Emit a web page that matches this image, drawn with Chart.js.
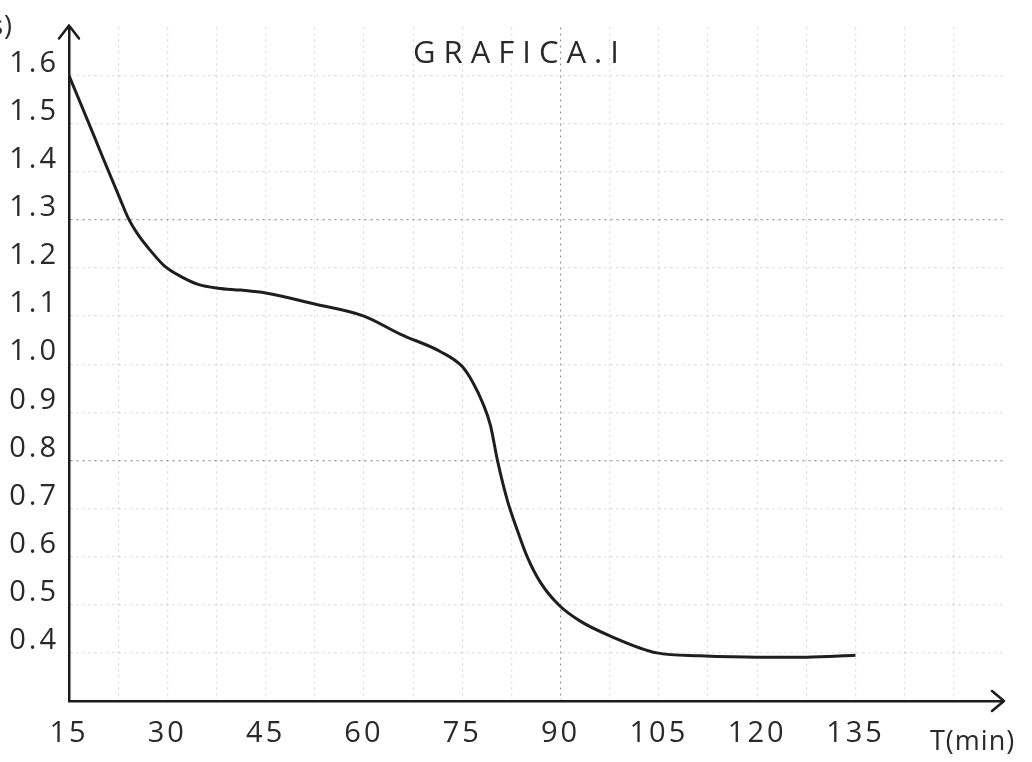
<!DOCTYPE html>
<html><head><meta charset="utf-8">
<script src="https://cdn.jsdelivr.net/npm/chart.js@4.4.1/dist/chart.umd.min.js"></script>
<style>html,body{margin:0;padding:0;background:#fff;overflow:hidden}canvas{display:block}</style>
</head><body>
<canvas id="c" width="1032" height="762"></canvas>
<script>
// ---- data ----
const timeMin = [15, 18.8, 20.3, 22.6, 24.1, 25.7, 27.5, 29.5, 32.1, 34.7, 37.7, 41.2, 45, 52.5, 60, 65.6, 71.7, 75, 76.7, 78.1, 79.3, 80.4, 81.9, 83.4, 84.9, 86.9, 89.7, 93, 97.6, 104.7, 111.3, 120, 127.5, 135];
const values  = [1.60, 1.475, 1.425, 1.35, 1.302, 1.266, 1.235, 1.205, 1.182, 1.166, 1.158, 1.154, 1.148, 1.125, 1.10, 1.062, 1.026, 0.995, 0.96, 0.92, 0.873, 0.798, 0.716, 0.655, 0.60, 0.547, 0.50, 0.466, 0.435, 0.40, 0.394, 0.391, 0.391, 0.395];
const xTickLabels = ['15','30','45','60','75','90','105','120','135'];
const yTickLabels = ['0.4','0.5','0.6','0.7','0.8','0.9','1.0','1.1','1.2','1.3','1.4','1.5','1.6'];
const chartTitle = 'GRAFICA.I';
const xAxisTitle = 'T(min)';
const yAxisTitle = 'T(s)';

const FONT = '"Open Sans", "DejaVu Sans", sans-serif';
const INK = '#2a2a2a';

const paperPlugin = {
  id: 'paper',
  beforeDraw(chart) {
    const ctx = chart.ctx;
    ctx.save();
    ctx.fillStyle = '#fff';
    ctx.fillRect(0, 0, chart.width, chart.height);
    ctx.restore();
    ctx.letterSpacing = '3px';
  },
  afterDraw(chart) {
    const ctx = chart.ctx;
    const {left, right, top, bottom} = chart.chartArea;
    ctx.save();
    ctx.strokeStyle = '#1c1c1c';
    ctx.lineWidth = 2.5;
    ctx.lineCap = 'round';
    ctx.lineJoin = 'round';
    // y axis arrow
    ctx.beginPath();
    ctx.moveTo(left, top + 2); ctx.lineTo(left, top - 2);
    ctx.moveTo(left - 10, top + 11); ctx.lineTo(left, top - 2); ctx.lineTo(left + 10, top + 11);
    ctx.stroke();
    // x axis arrow
    ctx.beginPath();
    ctx.moveTo(right - 11, bottom - 10); ctx.lineTo(right + 1, bottom); ctx.lineTo(right - 11, bottom + 10);
    ctx.stroke();
    // texts
    ctx.fillStyle = INK;
    ctx.textBaseline = 'alphabetic';
    ctx.textAlign = 'left';
    ctx.letterSpacing = '8px';
    ctx.font = '400 31px ' + FONT;
    ctx.fillText(chartTitle, 413, 63);
    ctx.letterSpacing = '1px';
    ctx.font = '400 27px ' + FONT;
    ctx.fillText(xAxisTitle, 930, 750);
    ctx.textAlign = 'right';
    ctx.fillText(yAxisTitle, 13, 35);
    ctx.restore();
  }
};

const gridColor = (emph, edgeVals) => (c) => {
  if (!c.tick) return 'rgba(0,0,0,0.15)';
  const v = +c.tick.value.toFixed(2);
  if (edgeVals.includes(v)) return 'rgba(0,0,0,0)';
  return emph.includes(v) ? 'rgba(0,0,0,0.42)' : 'rgba(0,0,0,0.15)';
};

new Chart(document.getElementById('c'), {
  type: 'line',
  data: {
    datasets: [{
      data: timeMin.map((t, i) => ({x: t, y: values[i]})),
      borderColor: '#1e1e1e',
      borderWidth: 3,
      pointRadius: 0,
      cubicInterpolationMode: 'monotone',
      fill: false
    }]
  },
  plugins: [paperPlugin],
  options: {
    responsive: false,
    animation: false,
    events: [],
    layout: {padding: {left: 0, right: 29, top: 14, bottom: 0}},
    plugins: {legend: {display: false}, tooltip: {enabled: false}, title: {display: false}},
    scales: {
      x: {
        type: 'linear',
        min: 15, max: 157.5,
        afterFit: (s) => { s.height = 61; },
        ticks: {
          stepSize: 7.5, autoSkip: false, maxRotation: 0, padding: 15,
          color: INK, font: {family: FONT, size: 29, weight: 400},
          callback: (v) => xTickLabels.includes(String(v)) ? String(v) : ''
        },
        grid: {color: gridColor([90], [157.5]), lineWidth: 1.2, drawTicks: false},
        border: {display: true, color: '#1c1c1c', width: 2.5, dash: [2, 4]}
      },
      y: {
        min: 0.3, max: 1.7,
        afterFit: (s) => { s.width = 69; },
        ticks: {
          stepSize: 0.1, autoSkip: false, padding: 10, labelOffset: -12,
          color: INK, font: {family: FONT, size: 29, weight: 400},
          callback: (v) => { const s = v.toFixed(1); return yTickLabels.includes(s) ? s : ''; }
        },
        grid: {color: gridColor([1.3, 0.8], [1.7]), lineWidth: 1.2, drawTicks: false},
        border: {display: true, color: '#1c1c1c', width: 2.5, dash: [2, 4]}
      }
    }
  }
});
</script>
</body></html>
